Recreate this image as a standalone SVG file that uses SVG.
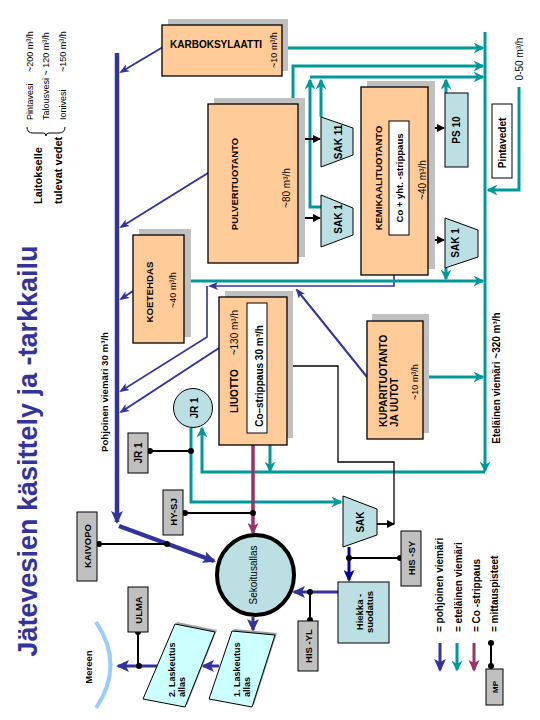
<svg xmlns="http://www.w3.org/2000/svg" width="540" height="720" viewBox="0 0 540 720">
<defs>
<style>
.t{font-family:"Liberation Sans",Arial,sans-serif;fill:#000}
.b{font-weight:bold}
.box{fill:#FFCC99;stroke:#000;stroke-width:1.3}
.sh{fill:#C0C0C0}
.lb{fill:#BBDFE2;stroke:#000;stroke-width:1}
.gr{fill:#C0C0C0;stroke:#000;stroke-width:1}
.wb{fill:#fff;stroke:#000;stroke-width:1}
.cy{fill:#CCFFFF;stroke:#000;stroke-width:1}
.n{fill:none;stroke:#333399}
.s{fill:none;stroke:#009999;stroke-width:3}
.k{fill:none;stroke:#000}
.d{fill:#000}
</style>
<marker id="mB" markerUnits="userSpaceOnUse" markerWidth="10" markerHeight="8" refX="8" refY="4" orient="auto"><path d="M0,0 L10,4 L0,8 L2.5,4 z" fill="#333399"/></marker>
<marker id="mBL" markerUnits="userSpaceOnUse" markerWidth="13" markerHeight="12" refX="11" refY="6" orient="auto"><path d="M0,0 L13,6 L0,12 L3,6 z" fill="#333399"/></marker>
<marker id="mT" markerUnits="userSpaceOnUse" markerWidth="11" markerHeight="11" refX="9.5" refY="5.5" orient="auto"><path d="M0,0 L11,5.5 L0,11 L3.5,5.5 z" fill="#009999"/></marker>
<marker id="mK" markerUnits="userSpaceOnUse" markerWidth="8" markerHeight="8" refX="7" refY="4" orient="auto"><path d="M0,0 L8,4 L0,8 z" fill="#000"/></marker>
<marker id="mM" markerUnits="userSpaceOnUse" markerWidth="12" markerHeight="11" refX="10" refY="5.5" orient="auto"><path d="M0,0 L12,5.5 L0,11 L3,5.5 z" fill="#993366"/></marker>
<marker id="mN" markerUnits="userSpaceOnUse" markerWidth="12" markerHeight="11" refX="10" refY="5.5" orient="auto"><path d="M0,0 L12,5.5 L0,11 L3,5.5 z" fill="#000099"/></marker>
</defs>
<rect width="540" height="720" fill="#fff"/>

<g id="title">
<text class="t b" transform="translate(37,451) rotate(-90)" text-anchor="middle" font-size="27" fill="#333399" style="fill:#333399">Jätevesien käsittely ja -tarkkailu</text>
</g>

<g id="legend-top">
<text class="t b" transform="translate(42,204) rotate(-90)" font-size="11">Laitokselle</text>
<text class="t b" transform="translate(62,204) rotate(-90)" font-size="11">tulevat vedet</text>
<path class="k" stroke-width="1" d="M27,127 Q27,133 33,133 L43,133 Q46,133 46,136 Q46,133 49,133 L59,133 Q65,133 65,127"/>
<text class="t" transform="translate(33,120) rotate(-90)" font-size="9">Pintavesi</text>
<text class="t" transform="translate(33,72) rotate(-90)" font-size="9">~200 m³/h</text>
<text class="t" transform="translate(49,120) rotate(-90)" font-size="9">Talousvesi ~ 120 m³/h</text>
<text class="t" transform="translate(66,120) rotate(-90)" font-size="9">Ionivesi</text>
<text class="t" transform="translate(66,72) rotate(-90)" font-size="9">~150 m³/h</text>
</g>

<g id="connectors">
<!-- north sewer -->
<path class="n" stroke-width="4.5" d="M117,53 V522" marker-end="url(#mBL)"/>
<path class="n" stroke-width="4.5" d="M119,526 L214,561" marker-end="url(#mBL)"/>
<path class="n" stroke-width="2" d="M163,47 L121,72" marker-end="url(#mB)"/>
<path class="n" stroke-width="2" d="M208,173 L121,227" marker-end="url(#mB)"/>
<path class="n" stroke-width="2" d="M133,291 L121,299" marker-end="url(#mB)"/>
<path class="n" stroke-width="1.6" d="M394,275 V286 H210" marker-end="url(#mB)"/>
<path class="n" stroke-width="1.6" d="M207,286 V337 L121,391" marker-end="url(#mB)"/>
<path class="n" stroke-width="2" d="M219,348 L121,412" marker-end="url(#mB)"/>
<path class="n" stroke-width="2" d="M367,377 L297,290" marker-end="url(#mB)"/>
<!-- south sewer -->
<path class="s" d="M485,32 V471" marker-end="url(#mT)"/>
<path class="s" d="M282,48 H483" marker-end="url(#mT)"/>
<path class="s" d="M293,104 V66 H483" marker-end="url(#mT)"/>
<path class="s" d="M310,77 H483" marker-end="url(#mT)"/>
<path class="s" d="M321,117 V80" marker-end="url(#mT)"/>
<path class="s" d="M321,207 H310 V80" marker-end="url(#mT)"/>
<path class="s" d="M446,93 V80" marker-end="url(#mT)"/>
<path class="s" d="M184,281 H483" marker-end="url(#mT)"/>
<path class="s" d="M446,268 V279" marker-end="url(#mT)"/>
<path class="s" d="M423,377 H483" marker-end="url(#mT)"/>
<path class="s" d="M519,87 V190 H488" marker-end="url(#mT)"/>
<path class="s" d="M485,472 H202 V428" marker-end="url(#mT)"/>
<path class="s" d="M270,445 V471" marker-end="url(#mT)"/>
<path class="s" d="M191,428 V502 H341" marker-end="url(#mT)"/>
<!-- black process arrows -->
<path class="k" stroke-width="2" d="M298,139 H320" marker-end="url(#mK)"/>
<path class="k" stroke-width="2" d="M298,218 H320" marker-end="url(#mK)"/>
<path class="k" stroke-width="2" d="M428,128 H444" marker-end="url(#mK)"/>
<path class="k" stroke-width="2" d="M428,240 H444" marker-end="url(#mK)"/>
<path class="k" stroke-width="1.3" d="M394,524 V462 H338 V366 H268" marker-end="url(#mK)"/>
<path class="k" stroke-width="1.8" d="M377,524 H394" marker-end="url(#mK)"/>
<!-- Co-strippaus -->
<path fill="none" stroke="#993366" stroke-width="3.5" d="M253,433 V533" marker-end="url(#mM)"/>
<!-- lower part -->
<path fill="none" stroke="#000099" stroke-width="3" d="M349,547 V580" marker-end="url(#mN)"/>
<path class="n" stroke-width="3" d="M338,592 H294" marker-end="url(#mBL)"/>
<path class="n" stroke-width="3" d="M253,617 V630" marker-end="url(#mBL)"/>
<path class="n" stroke-width="3" d="M219,666 H203" marker-end="url(#mBL)"/>
<path class="n" stroke-width="3" d="M157,666 H118" marker-end="url(#mBL)"/>
<!-- measuring points -->
<path class="k" stroke-width="2" d="M148,451 H191 M183,513 H253 M97,544 H167 M349,558 H400 M310,592 V620 M138,632 V666"/>
<circle class="d" cx="150" cy="451" r="3"/><circle class="d" cx="191" cy="451" r="3"/>
<circle class="d" cx="185" cy="513" r="3"/><circle class="d" cx="253" cy="513" r="3"/>
<circle class="d" cx="99" cy="544" r="3"/><circle class="d" cx="167" cy="544" r="3"/>
<circle class="d" cx="349" cy="558" r="3"/><circle class="d" cx="400" cy="558" r="3"/>
<circle class="d" cx="310" cy="592" r="3"/><circle class="d" cx="310" cy="620" r="3"/>
<circle class="d" cx="138" cy="632" r="3"/><circle class="d" cx="139" cy="666" r="3"/>
<path fill="none" stroke="#99CCFF" stroke-width="4" d="M96,622 Q125,665 96,708"/>
</g>

<g id="karboksylaatti">
<rect class="sh" x="168" y="19" width="120" height="52"/>
<rect class="box" x="162" y="25" width="120" height="51"/>
<text class="t b" x="170" y="48" font-size="10">KARBOKSYLAATTI</text>
<text class="t" transform="translate(277,50) rotate(-90)" text-anchor="middle" font-size="9">~10 m³/h</text>
</g>

<g id="pulveri">
<rect class="sh" x="214" y="98" width="91" height="159"/>
<rect class="box" x="208" y="104" width="90" height="159"/>
<text class="t b" transform="translate(238,184) rotate(-90)" text-anchor="middle" font-size="9.5">PULVERITUOTANTO</text>
<text class="t" transform="translate(290,188) rotate(-90)" text-anchor="middle" font-size="10">~80 m³/h</text>
</g>

<g id="sak11">
<polygon class="lb" points="321,117 353,128 353,155 321,167"/>
<text class="t b" transform="translate(342,142) rotate(-90)" text-anchor="middle" font-size="10">SAK 11</text>
</g>
<g id="sak1a">
<polygon class="lb" points="321,195 353,208 353,235 321,247"/>
<text class="t b" transform="translate(342,219) rotate(-90)" text-anchor="middle" font-size="10">SAK 1</text>
</g>

<g id="kemikaali">
<rect class="sh" x="367" y="81" width="68" height="188"/>
<rect class="box" x="361" y="87" width="67" height="188"/>
<rect class="wb" x="389" y="121" width="20" height="114"/>
<text class="t b" transform="translate(382,178) rotate(-90)" text-anchor="middle" font-size="9.5">KEMIKAALITUOTANTO</text>
<text class="t b" transform="translate(403,178) rotate(-90)" text-anchor="middle" font-size="9.5">Co + yht. -strippaus</text>
<text class="t" transform="translate(426,180) rotate(-90)" text-anchor="middle" font-size="10">~40 m³/h</text>
</g>

<g id="ps10">
<rect class="lb" x="445" y="93" width="23" height="74"/>
<text class="t b" transform="translate(460,130) rotate(-90)" text-anchor="middle" font-size="10">PS 10</text>
</g>
<g id="sak1b">
<polygon class="lb" points="445,218 478,230 478,257 445,268"/>
<text class="t b" transform="translate(459,243) rotate(-90)" text-anchor="middle" font-size="10">SAK 1</text>
</g>

<g id="pintavedet">
<rect class="wb" x="492" y="104" width="20" height="74"/>
<text class="t b" transform="translate(506,143) rotate(-90)" text-anchor="middle" font-size="10">Pintavedet</text>
<text class="t" transform="translate(523,59) rotate(-90)" text-anchor="middle" font-size="10">0-50 m³/h</text>
</g>

<g id="labels">
<text class="t b" transform="translate(500,378) rotate(-90)" text-anchor="middle" font-size="10">Eteläinen viemäri ~320 m³/h</text>
<text class="t b" transform="translate(108,392) rotate(-90)" text-anchor="middle" font-size="9.7">Pohjoinen viemäri 30 m³/h</text>
</g>

<g id="koetehdas">
<rect class="sh" x="139" y="229" width="52" height="108"/>
<rect class="box" x="133" y="235" width="51" height="108"/>
<text class="t b" transform="translate(153,292) rotate(-90)" text-anchor="middle" font-size="9.7">KOETEHDAS</text>
<text class="t" transform="translate(176,290) rotate(-90)" text-anchor="middle" font-size="9">~40 m³/h</text>
</g>

<g id="liuotto">
<rect class="sh" x="225" y="291" width="68" height="147"/>
<rect class="box" x="219" y="297" width="68" height="148"/>
<rect class="wb" x="247" y="303" width="20" height="130"/>
<text class="t b" transform="translate(238,413) rotate(-90)" font-size="10">LIUOTTO</text>
<text class="t" transform="translate(238,310) rotate(-90)" text-anchor="end" font-size="10">~130 m³/h</text>
<text class="t b" transform="translate(263,376) rotate(-90)" text-anchor="middle" font-size="10">Co–strippaus 30 m³/h</text>
</g>

<g id="kupari">
<rect class="sh" x="372" y="314" width="57" height="119"/>
<rect class="box" x="367" y="321" width="56" height="118"/>
<text class="t b" transform="translate(387,427) rotate(-90)" font-size="10">KUPARITUOTANTO</text>
<text class="t b" transform="translate(398,427) rotate(-90)" font-size="10">JA UUTOT</text>
<text class="t" transform="translate(418,382) rotate(-90)" text-anchor="middle" font-size="9">~10 m³/h</text>
</g>

<g id="jr1-circle">
<circle class="lb" cx="193" cy="408" r="19.5" stroke-width="1.3"/>
<text class="t b" transform="translate(198,408) rotate(-90)" text-anchor="middle" font-size="10">JR 1</text>
</g>
<g id="jr1-box">
<rect class="gr" x="128" y="433" width="20" height="40"/>
<text class="t b" transform="translate(142,453) rotate(-90)" text-anchor="middle" font-size="10">JR 1</text>
</g>
<g id="hysj">
<rect class="gr" x="163" y="490" width="20" height="45"/>
<text class="t b" transform="translate(177,512) rotate(-90)" text-anchor="middle" font-size="9.5">HY-SJ</text>
</g>
<g id="kaivopo">
<rect class="gr" x="77" y="512" width="20" height="69"/>
<text class="t b" transform="translate(91,546) rotate(-90)" text-anchor="middle" font-size="9.5">KAIVOPO</text>
</g>
<g id="ulma">
<rect class="gr" x="128" y="587" width="20" height="45"/>
<text class="t b" transform="translate(142,610) rotate(-90)" text-anchor="middle" font-size="9.5">ULMA</text>
</g>

<g id="sak">
<polygon class="lb" points="343,496 377,509 377,535 343,547"/>
<text class="t b" transform="translate(364,522) rotate(-90)" text-anchor="middle" font-size="10">SAK</text>
</g>
<g id="hissy">
<rect class="gr" x="401" y="531" width="20" height="55"/>
<text class="t b" transform="translate(415,558) rotate(-90)" text-anchor="middle" font-size="9.5">HIS -SY</text>
</g>
<g id="hiekka">
<rect class="lb" x="338" y="582" width="51" height="61"/>
<text class="t b" transform="translate(363,612) rotate(-90)" text-anchor="middle" font-size="9.5">Hiekka -</text>
<text class="t b" transform="translate(373,612) rotate(-90)" text-anchor="middle" font-size="9.5">suodatus</text>
</g>
<g id="hisyl">
<rect class="gr" x="298" y="621" width="20" height="50"/>
<text class="t b" transform="translate(312,646) rotate(-90)" text-anchor="middle" font-size="9.5">HIS -YL</text>
</g>

<g id="sekoitusallas">
<ellipse cx="255.5" cy="575" rx="38.5" ry="40" fill="#BBDFE2" stroke="#000" stroke-width="4"/>
<text class="t" transform="translate(257,575) rotate(-90)" text-anchor="middle" font-size="10">Sekoitusallas</text>
</g>

<g id="laskeutus1">
<polygon points="234,629 277,633 254,705 211,697" fill="#A0A0A0"/>
<polygon class="cy" points="232,631 275,635 252,707 209,699"/>
<text class="t b" transform="translate(240,697) rotate(-90)" font-size="9">1. Laskeutus</text>
<text class="t b" transform="translate(250,697) rotate(-90)" font-size="9">allas</text>
</g>
<g id="laskeutus2">
<polygon points="177,622 217,630 187,705 145,697" fill="#A0A0A0"/>
<polygon class="cy" points="175,624 215,632 185,707 143,699"/>
<text class="t b" transform="translate(175,697) rotate(-90)" font-size="9">2. Laskeutus</text>
<text class="t b" transform="translate(185,697) rotate(-90)" font-size="9">allas</text>
</g>
<g id="mereen">
<text class="t b" transform="translate(92,667) rotate(-90)" text-anchor="middle" font-size="9.5">Mereen</text>
</g>

<g id="legend-bottom">
<path class="n" stroke-width="3" d="M440,643 V670" marker-end="url(#mBL)"/>
<path class="s" d="M457,643 V670" marker-end="url(#mT)"/>
<path fill="none" stroke="#993366" stroke-width="3" d="M474,643 V670" marker-end="url(#mM)"/>
<path class="k" stroke-width="2" d="M491,643 V666"/>
<circle class="d" cx="491" cy="643" r="3"/><circle class="d" cx="491" cy="666" r="3"/>
<rect class="gr" x="486" y="669" width="17" height="36"/>
<text class="t b" transform="translate(498,687) rotate(-90)" text-anchor="middle" font-size="8">MP</text>
<text class="t b" transform="translate(443,632) rotate(-90)" font-size="10">= pohjoinen viemäri</text>
<text class="t b" transform="translate(462,632) rotate(-90)" font-size="10">= eteläinen viemäri</text>
<text class="t b" transform="translate(480,632) rotate(-90)" font-size="10">= Co -strippaus</text>
<text class="t b" transform="translate(498,632) rotate(-90)" font-size="10">= mittauspisteet</text>
</g>
</svg>
